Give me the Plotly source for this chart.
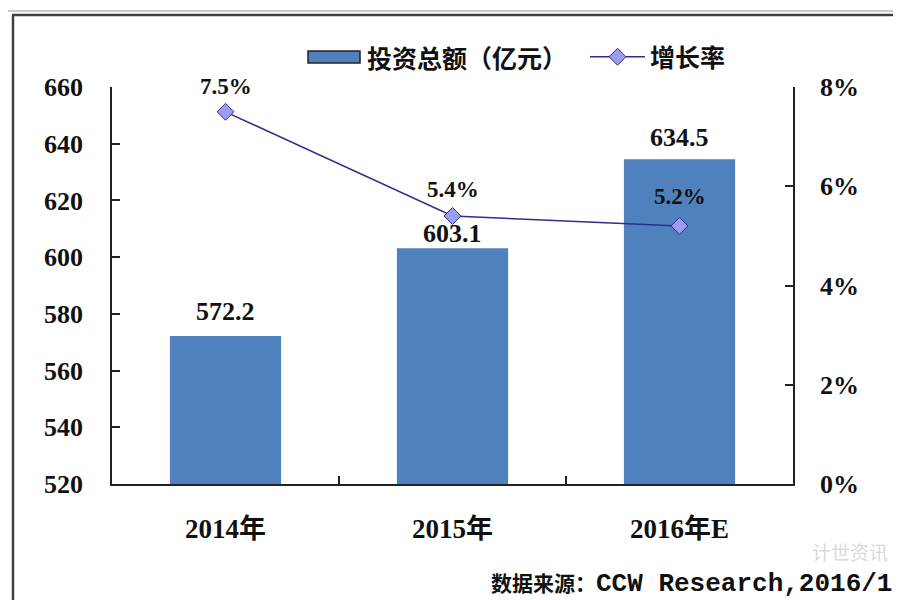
import plotly.graph_objects as go

categories = ["2014年", "2015年", "2016年E"]
invest = [572.2, 603.1, 634.5]
growth = [7.5, 5.4, 5.2]
left_ticks = [520, 540, 560, 580, 600, 620, 640, 660]
right_ticks = [0, 2, 4, 6, 8]
bar_name = "投资总额（亿元）"
line_name = "增长率"

SERIF = "Liberation Serif"
CJK = "Noto Sans CJK SC"
MONO = "Liberation Mono"
FONT = f"{SERIF}, {CJK}"
BAR_COLOR = "#4F81BD"

fig = go.Figure()
fig.add_trace(go.Bar(
    x=categories, y=invest, name=bar_name, showlegend=False,
    marker=dict(color=BAR_COLOR, line=dict(color=BAR_COLOR, width=0)),
    width=0.49,
))
fig.add_trace(go.Scatter(
    x=categories, y=growth, name=line_name, yaxis="y2",
    mode="lines+markers",
    line=dict(color="#2E2E8F", width=1.5),
    marker=dict(symbol="diamond", size=13, color="#9C9CF2",
                line=dict(color="#2E2E8F", width=1)),
    cliponaxis=False,
))

bar_shift = [24, 15, 22]
for c, v, s in zip(categories, invest, bar_shift):
    fig.add_annotation(x=c, y=v, yref="y", text=f"<b>{v:.1f}</b>", showarrow=False,
                       yshift=s, font=dict(family=SERIF, size=26, color="#111"))
pct_shift = [25, 27, 29]
for c, g, s in zip(categories, growth, pct_shift):
    fig.add_annotation(x=c, y=g, yref="y2", text=f"<b>{g:.1f}%</b>", showarrow=False,
                       yshift=s, font=dict(family=SERIF, size=23, color="#111"))


def px(xp):
    return (xp - 112) / 681


def py(yp):
    return (484 - yp) / 397


# manual legend entry for the bar series (wide outlined rectangle, as in the original)
fig.add_shape(type="rect", xref="paper", yref="paper", x0=px(308), x1=px(360), y0=py(63), y1=py(51),
              fillcolor=BAR_COLOR, line=dict(color="#222", width=1.5))
fig.add_annotation(xref="paper", yref="paper", x=px(365), y=py(57), xanchor="left", yanchor="middle",
                   showarrow=False, text=f"<b>{bar_name}</b>",
                   font=dict(family=CJK, size=25, color="#111"))

# source and watermark
fig.add_annotation(xref="paper", yref="paper", x=px(850), y=py(551),
                   xanchor="center", yanchor="middle", showarrow=False,
                   text="计世资讯", font=dict(family=CJK, size=19, color="#DADADA"))
fig.add_annotation(xref="paper", yref="paper", x=px(894), y=py(583),
                   xanchor="right", yanchor="middle", showarrow=False,
                   text=f"<b><span style='font-family:{CJK};font-size:21px'>数据来源：</span>"
                        f"CCW Research,2016/1</b>",
                   font=dict(family=MONO, size=26, color="#111"))

# outer frame
fig.add_shape(type="line", xref="paper", yref="paper", x0=px(8), x1=px(905), y0=py(11), y1=py(11),
              line=dict(color="#C8C8C8", width=2))
fig.add_shape(type="line", xref="paper", yref="paper", x0=px(12), x1=px(905), y0=py(15), y1=py(15),
              line=dict(color="#404040", width=2.5))
fig.add_shape(type="line", xref="paper", yref="paper", x0=px(13), x1=px(13), y0=py(15), y1=py(605),
              line=dict(color="#404040", width=2.5))

axis_common = dict(showgrid=False, zeroline=False, showline=True, linecolor="#222", linewidth=1.5,
                   ticks="inside", ticklen=8, tickcolor="#222", tickwidth=1.5)

fig.update_layout(
    width=901, height=600,
    margin=dict(l=104, r=116, t=79, b=124, autoexpand=False),
    paper_bgcolor="white", plot_bgcolor="white",
    font=dict(family=FONT, color="#111"),
    showlegend=True,
    legend=dict(orientation="h", x=px(585), y=py(57), xanchor="left", yanchor="middle",
                font=dict(family=CJK, size=25, color="#111", weight="bold"),
                itemwidth=55, bgcolor="rgba(0,0,0,0)"),
    bargap=0.51,
    xaxis=dict(**axis_common, tickson="boundaries", ticklabelstandoff=20,
               tickfont=dict(family=FONT, size=27, weight="bold")),
    yaxis=dict(**axis_common, range=[520, 660], tickvals=left_ticks, ticklabelstandoff=22,
               tickfont=dict(family=SERIF, size=26, weight="bold")),
    yaxis2=dict(**axis_common, overlaying="y", side="right", range=[0, 8], tickvals=right_ticks,
                ticktext=[f"{t}%" for t in right_ticks], ticklabelstandoff=20,
                tickfont=dict(family=SERIF, size=26, weight="bold")),
)

fig.write_html("out.html")
